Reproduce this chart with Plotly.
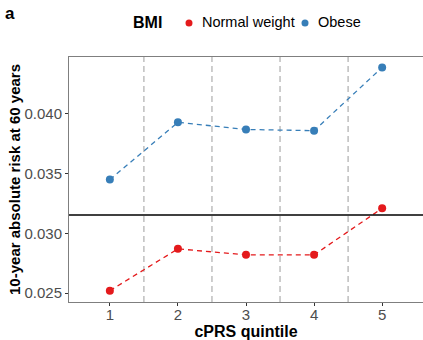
import plotly.graph_objects as go

quintiles = [1, 2, 3, 4, 5]
tick_labels = ["1", "2", "3", "4", "5"]
normal_weight = [0.0252, 0.0287, 0.0282, 0.0282, 0.0321]
obese = [0.0345, 0.0393, 0.0387, 0.0386, 0.0439]
reference_risk = 0.03153
separators = [1.5, 2.5, 3.5, 4.5]
y_ticks = [0.025, 0.030, 0.035, 0.040]
series_names = ["Normal weight", "Obese"]

RED = "#E41A1C"
BLUE = "#377EB8"
FONT = "Liberation Sans, Arial, sans-serif"

W, H = 423, 340
ML, MR, MT, MB = 69, 0, 57, 38
PW, PH = W - ML - MR, H - MT - MB


def px(x):
    return (x - ML) / PW


def py(y):
    return (H - MB - y) / PH


fig = go.Figure()

for name, vals, col in [(series_names[0], normal_weight, RED), (series_names[1], obese, BLUE)]:
    fig.add_trace(go.Scatter(
        x=quintiles, y=vals, mode="lines+markers", name=name,
        line=dict(color=col, width=1.3, dash="5px,4px"),
        marker=dict(color=col, size=8),
        showlegend=False,
    ))

for s in separators:
    fig.add_vline(x=s, line=dict(color="#BEBEBE", width=1.5, dash="6px,4px"), layer="below")
fig.add_hline(y=reference_risk, line=dict(color="black", width=1.5))

fig.update_layout(
    width=W, height=H,
    margin=dict(l=ML, r=MR, t=MT, b=MB, autoexpand=False),
    paper_bgcolor="white", plot_bgcolor="white",
    font=dict(family=FONT, size=14, color="black"),
    showlegend=False,
)

fig.update_xaxes(
    range=[0.4, 5.6], tickvals=quintiles, ticktext=tick_labels,
    showgrid=False, zeroline=False,
    showline=True, linecolor="#7F7F7F", linewidth=1, mirror=True,
    ticks="outside", ticklen=3, tickcolor="#333333", ticklabelstandoff=-4,
    tickfont=dict(size=15, color="#4D4D4D"),
    title=dict(text="<b>cPRS quintile</b>", font=dict(size=16), standoff=0),
)
fig.update_yaxes(
    range=[0.02425, 0.04477], tickvals=y_ticks, tickformat=".3f",
    showgrid=False, zeroline=False,
    showline=True, linecolor="#7F7F7F", linewidth=1, mirror=True,
    ticks="outside", ticklen=3, tickcolor="#333333",
    tickfont=dict(size=15, color="#4D4D4D"),
    title=dict(text="<b>10-year absolute risk at 60 years</b>", font=dict(size=15), standoff=0),
)

# panel tag
fig.add_annotation(text="<b>a</b>", x=px(10), y=py(14), xref="paper", yref="paper",
                   xanchor="center", yanchor="middle", showarrow=False, font=dict(size=17))

# legend (top, horizontal)
leg_y = py(22)
fig.add_annotation(text="<b>BMI</b>", x=px(131), y=leg_y, xref="paper", yref="paper",
                   xanchor="left", yanchor="middle", showarrow=False, font=dict(size=16))
for name, col, dot_x, text_x in [(series_names[0], RED, 189, 200), (series_names[1], BLUE, 305, 316)]:
    fig.add_shape(type="circle", xref="paper", yref="paper",
                  xsizemode="pixel", ysizemode="pixel",
                  xanchor=px(dot_x), yanchor=py(23),
                  x0=-3.5, x1=3.5, y0=-3.5, y1=3.5,
                  fillcolor=col, line=dict(width=0))
    fig.add_annotation(text=name, x=px(text_x), y=leg_y, xref="paper", yref="paper",
                       xanchor="left", yanchor="middle", showarrow=False,
                       font=dict(size=14.5, color="black"))

fig.write_html("out.html")
